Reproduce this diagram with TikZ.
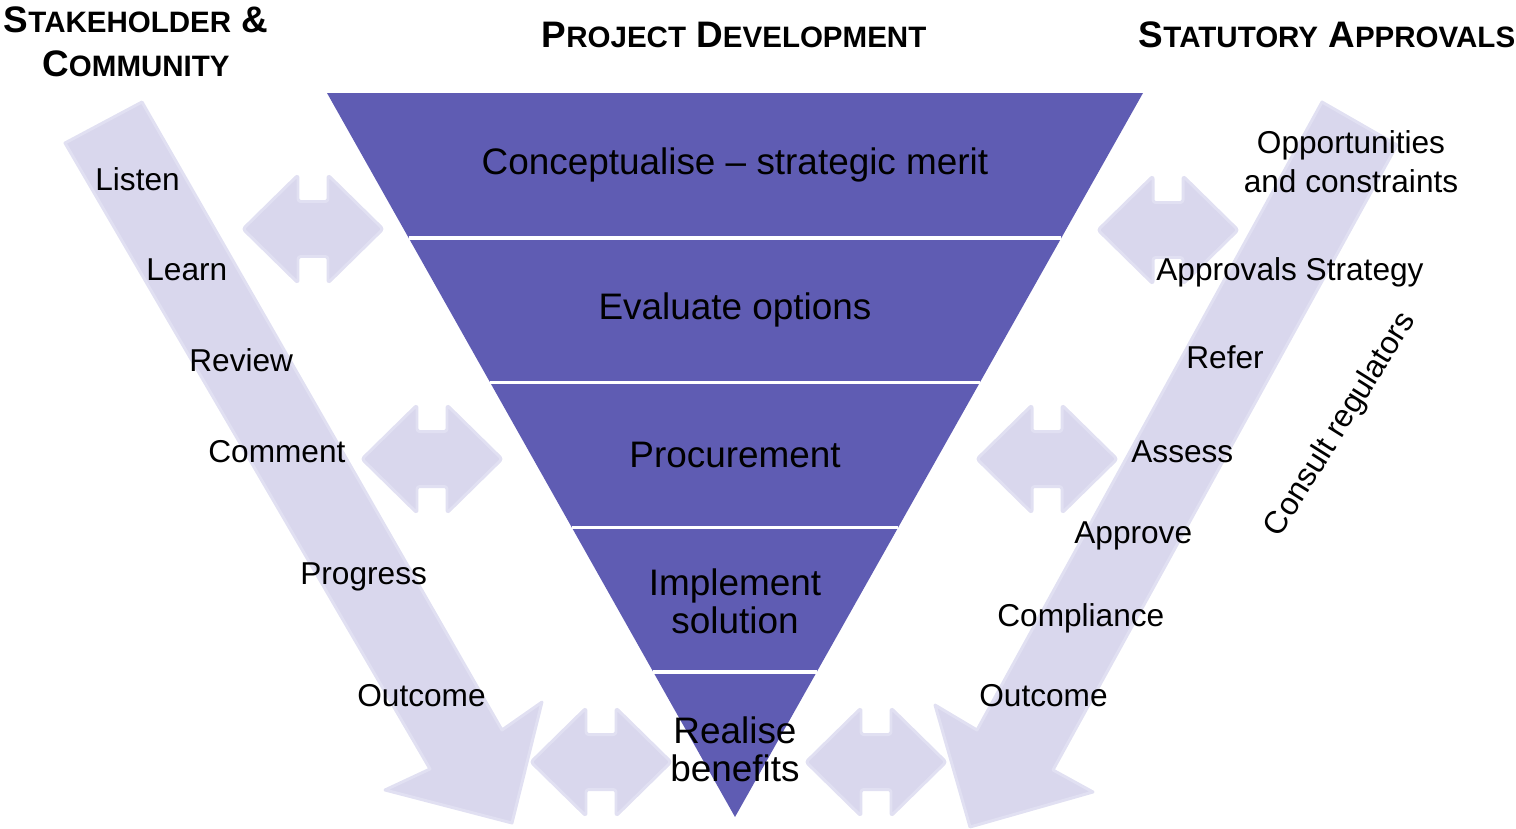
\documentclass[tikz,border=0pt]{standalone}
\usepackage{fontspec}
\setmainfont{Liberation Sans}
\usetikzlibrary{calc}
\definecolor{funnelblue}{RGB}{95,92,179}
\definecolor{lavender}{RGB}{217,215,237}
\definecolor{lavedge}{RGB}{225,224,242}
% small caps faked with a smaller upper case
\newcommand{\capword}[2]{#1{\fontsize{16.8}{18}\selectfont #2}}

\begin{document}
\begin{tikzpicture}[x=0.02cm, y=-0.02cm,
    pale/.style={fill=lavender, draw=lavedge, line width=1.7pt, line join=round},
    twoway/.pic={\path[pale, rounded corners=1.5pt] (-70,0) -- (-15,-54) -- (-15,-27.5) -- (15,-27.5) -- (15,-54) -- (70,0)
        -- (15,54) -- (15,27.5) -- (-15,27.5) -- (-15,54) -- cycle;},
    stage/.style={font=\fontsize{21}{21.6}\selectfont, align=center, inner sep=0},
    cue/.style={font=\fontsize{18}{22}\selectfont, inner sep=0, anchor=base west},
    head/.style={font=\fontsize{21}{25}\selectfont\bfseries, align=center, inner sep=0}
]
    \useasboundingbox (0,0) rectangle (1516,829);

    % the two long arrows at the sides
    \path[pale] (65,143) -- (142,102) -- (502,730) -- (542,702) -- (512,823) -- (385,790) -- (430,769) -- cycle;
    \path[pale] (1322,102) -- (1397,145) -- (1053,770) -- (1093,792) -- (970,827) -- (935,705) -- (977,730) -- cycle;

    % two-way arrows between the sides and the funnel
    \pic at (313,229) {twoway};
    \pic at (432,459) {twoway};
    \pic at (601,762) {twoway};
    \pic at (1168,230) {twoway};
    \pic at (1047,459) {twoway};
    \pic at (876,762) {twoway};

    % funnel, cut into five bands
    \coordinate (tl) at (327,93);
    \coordinate (tr) at (1143,93);
    \coordinate (top) at (735,93);
    \coordinate (apex) at (735,817);
    \fill[funnelblue] (tl) -- (tr) -- (apex) -- cycle;
    \foreach \f in {0.2,0.4,0.6,0.8}
        \draw[white, line width=2pt] ($(tl)!\f!(apex)$) -- ($(tr)!\f!(apex)$);

    \node[stage] (conc) at ($(top)!0.1!(apex)$) {Conceptualise -- strategic merit};
    \node[stage] (eval) at ($(top)!0.3!(apex)$) {Evaluate options};
    \node[stage] (proc) at ($(top)!0.5!(apex)$) {Procurement};
    \node[stage, yshift=-1pt] (impl) at ($(top)!0.7!(apex)$) {Implement\\solution};
    \node[stage, yshift=-2.5pt] (real) at ($(top)!0.9!(apex)$) {Realise\\benefits};

    % headings
    \node[head] (stake) at (136,42) {\capword{S}{TAKEHOLDER} \&\\\capword{C}{OMMUNITY}};
    \node[head] (proj) at (734,35) {\capword{P}{ROJECT} \capword{D}{EVELOPMENT}};
    \node[head] (stat) at (1327,35) {\capword{S}{TATUTORY} \capword{A}{PPROVALS}};

    % stakeholder side
    \node[cue] (listen) at (95,190) {Listen};
    \node[cue] (learn) at (146,280) {Learn};
    \node[cue] (review) at (189,371) {Review};
    \node[cue] (comment) at (208,462) {Comment};
    \node[cue] (progress) at (300,584) {Progress};
    \node[cue] (outl) at (357,706) {Outcome};

    % approvals side
    \node[cue, anchor=center, align=center] (oppo) at (1351,162) {Opportunities\\and constraints};
    \node[cue] (strat) at (1156,280) {Approvals Strategy};
    \node[cue] (refer) at (1186,368) {Refer};
    \node[cue] (assess) at (1131,462) {Assess};
    \node[cue] (approve) at (1074,543) {Approve};
    \node[cue] (compl) at (997,626) {Compliance};
    \node[cue] (outr) at (979,706) {Outcome};
    \node[cue, anchor=center, rotate=58] (consult) at (1341,425) {Consult regulators};
\end{tikzpicture}
\end{document}
